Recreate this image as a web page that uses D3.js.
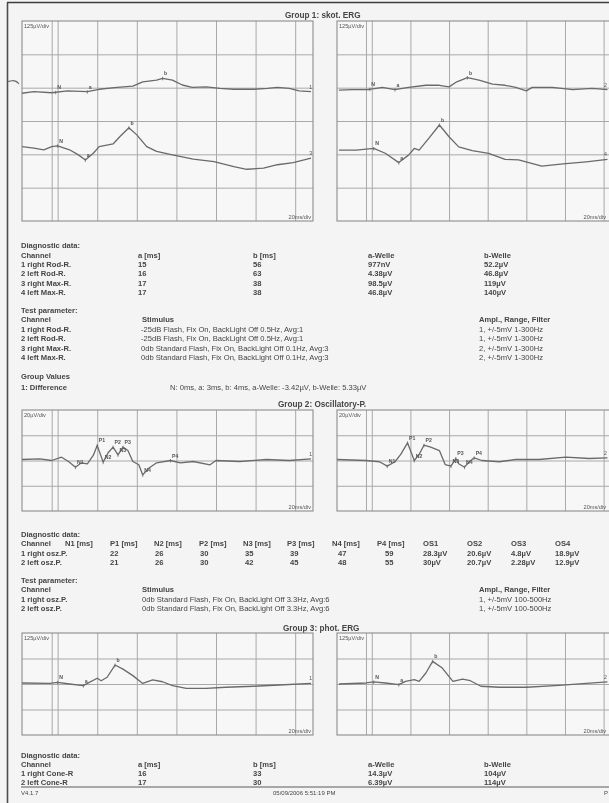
<!DOCTYPE html>
<html>
<head>
<meta charset="utf-8">
<script src="https://cdn.jsdelivr.net/npm/d3@7"></script>
<style>
body { margin: 0; background: #f4f4f4; }
svg { display: block; font-family: "Liberation Sans", Arial, sans-serif; }
</style>
</head>
<body>
<svg id="chart" width="609" height="803"></svg>
<script>
// Kurven: Zeit [ms] und Spannung [µV] relativ zur Nulllinie der Spur

// Group 1: skot. ERG
const rodRightT = [-18, -12, -3, 5, 15, 21, 30, 38, 43, 50, 53, 58, 63, 68, 75, 82, 89, 99, 106, 111, 117, 122, 128];
const rodRightV = [-12, -6, -10, -3, -6, 3, 10, 15, 31, 37, 44, 37, 19, 10, 12, 6, 3, 3, 6, 10, 6, -3, -6];
const maxRightT = [-18, -12, -7, -3, 0, 6, 10.5, 14, 18, 21, 28, 31.5, 36, 40, 45, 50, 58, 68.5, 79, 89, 95.5, 104, 111, 119, 128];
const maxRightV = [6, 0, -6, 6, 9, -6, -25, -44, -19, 6, 16, 44, 77, 50, 6, -12, -25, -41, -50, -69, -79, -75, -62, -54, -37];
const rodLeftT = [-17, -10, -2, 5.5, 12, 19, 28, 35, 40, 44, 49.5, 55.5, 62.5, 69, 74.5, 80, 83, 93.5, 104, 114, 122];
const rodLeftV = [-6, -4, -4, 4, -4, 4, 12, 12, 6, 25, 41, 31, 16, 12, 4, -9, 4, 4, -4, 0, -4];
const maxLeftT = [-17, -8, 1, 7, 14, 19, 22, 24.5, 29.5, 35, 40, 45, 52, 60.5, 69, 76, 88, 99, 111, 122];
const maxLeftV = [0, 0, 6, -12, -47, -19, 6, 0, 44, 94, 50, 12, -2, -12, -35, -37, -60, -52, -44, -35];
const strayT = [-25, -23, -21, -19.5];
const strayV = [148, 152, 150, 139];

// Group 2: Oscillatory-P.
const oszRightT = [-18, -9, -3, 2, 5.5, 9, 12, 15, 18, 20, 23, 25.5, 28, 30.5, 33, 35.5, 38, 41, 43, 46, 50, 57, 62, 68.5, 77, 80, 92, 105.5, 117, 128];
const oszRightV = [0.8, 1.3, 0, 2.6, -0.8, -5.3, -1.8, -2.6, 4, 11.9, -1.3, 6.1, 10.6, 4.5, 10.6, 7.9, -0.8, -3.4, -11.4, -6.1, -1.8, 0, -1.8, -0.8, -3.4, 0, -0.8, 0.8, 0, 1.3];
const oszLeftT = [-18, -3, 4, 8, 12, 15, 18.5, 22, 24.5, 27, 30.5, 35, 38, 41, 43.5, 45, 48, 50.5, 53, 57, 66, 74.5, 86.5, 100.5, 112.5, 122];
const oszLeftV = [0.8, 0, -1, -4.5, -1, 4.8, 14, 0, 4.8, 12.1, 10.6, 7.9, -3.2, -4.5, 1.6, -2.6, -5.3, -1, 2.1, 0, -1, 0.8, 0.8, 2.6, 1.6, 2.1];

// Group 3: phot. ERG
const coneRightT = [-18, -4, 0, 6, 13, 16, 20, 22, 25, 29, 33, 38, 43, 48, 53, 58, 65, 75, 85, 99, 112, 128];
const coneRightV = [5, 3, 8, 0, -8, 8, 28, 16, 33, 93, 73, 41, 3, 20, 11, -8, -21, -21, -16, -11, -5, 3];
const coneLeftT = [-17, -3, 1, 7, 14, 17.5, 22, 24.5, 28, 31.5, 36.5, 42, 47, 51, 56.5, 66, 80, 97, 111, 122];
const coneLeftV = [0, 5, 10, 5, -3, 13, 21, 13, 54, 111, 78, 13, 24, 16, -11, -16, -16, -7, 3, 10];

// Marker (Label, Zeit in ms)
const rodRightMarks = [["N", -1], ["a", 15], ["b", 53]];
const maxRightMarks = [["N", 0], ["a", 14], ["b", 36]];
const rodLeftMarks = [["N", -1], ["a", 12], ["b", 49.5]];
const maxLeftMarks = [["N", 1], ["a", 14], ["b", 35]];
const oszRightMarks = [["N1", 9], ["P1", 20], ["N2", 23], ["P2", 28], ["N3", 30.5], ["P3", 33], ["N4", 43], ["P4", 57]];
const oszLeftMarks = [["N1", 8], ["P1", 18.5], ["N2", 22], ["P2", 27], ["N3", 41], ["P3", 43.5], ["N4", 48], ["P4", 53]];
const coneRightMarks = [["N", 0], ["a", 13], ["b", 29]];
const coneLeftMarks = [["N", 1], ["a", 14], ["b", 31.5]];

// Raster
const timeDomain = [-18, 129];
const gridTimes = [-3, 0, 20, 40, 60, 80, 100, 120];

// Tabellen
const g1Channels = ["1 right Rod-R.", "2 left Rod-R.", "3 right Max-R.", "4 left Max-R."];
const g1Headers = ["a [ms]", "b [ms]", "a-Welle", "b-Welle"];
const g1A = ["15", "16", "17", "17"];
const g1B = ["56", "63", "38", "38"];
const g1AWave = ["977nV", "4.38µV", "98.5µV", "46.8µV"];
const g1BWave = ["52.2µV", "46.8µV", "119µV", "140µV"];
const g1Stimulus = [
  "-25dB Flash, Fix On, BackLight Off 0.5Hz, Avg:1",
  "-25dB Flash, Fix On, BackLight Off 0.5Hz, Avg:1",
  "0db Standard Flash, Fix On, BackLight Off 0.1Hz, Avg:3",
  "0db Standard Flash, Fix On, BackLight Off 0.1Hz, Avg:3"
];
const g1Ampl = ["1, +/-5mV 1-300Hz", "1, +/-5mV 1-300Hz", "2, +/-5mV 1-300Hz", "2, +/-5mV 1-300Hz"];
const g1Difference = "N: 0ms, a: 3ms, b: 4ms, a-Welle: -3.42µV, b-Welle: 5.33µV";

const g2Channels = ["1 right osz.P.", "2 left osz.P."];
const g2Headers = ["N1 [ms]", "P1 [ms]", "N2 [ms]", "P2 [ms]", "N3 [ms]", "P3 [ms]", "N4 [ms]", "P4 [ms]", "OS1", "OS2", "OS3", "OS4"];
const g2Times = [["22", "26", "30", "35", "39", "47", "59"], ["21", "26", "30", "42", "45", "48", "55"]];
const g2OS = [["28.3µV", "20.6µV", "4.8µV", "18.9µV"], ["30µV", "20.7µV", "2.28µV", "12.9µV"]];
const g2Stimulus = ["0db Standard Flash, Fix On, BackLight Off 3.3Hz, Avg:6", "0db Standard Flash, Fix On, BackLight Off 3.3Hz, Avg:6"];
const g2Ampl = ["1, +/-5mV 100-500Hz", "1, +/-5mV 100-500Hz"];

const g3Channels = ["1 right Cone-R", "2 left Cone-R"];
const g3A = ["16", "17"];
const g3B = ["33", "30"];
const g3AWave = ["14.3µV", "6.39µV"];
const g3BWave = ["104µV", "114µV"];

const svg = d3.select("#chart");
const INK = "#454545";

// leichte Unschaerfe wie beim Scan
svg.append("defs").append("filter").attr("id", "scan")
  .append("feGaussianBlur").attr("stdDeviation", 0.35);
svg.append("rect").attr("width", 609).attr("height", 803).attr("fill", "#f4f4f4");
const root = svg.append("g").attr("filter", "url(#scan)");

// Blattrand
root.append("line").attr("x1", 7.5).attr("y1", 2.5).attr("x2", 7.5).attr("y2", 803)
  .attr("stroke", "#4d4d4d").attr("stroke-width", 1.6);
root.append("line").attr("x1", 7).attr("y1", 2.5).attr("x2", 609).attr("y2", 2.5)
  .attr("stroke", "#3d3d3d").attr("stroke-width", 1.6);

function txt(x, y, s, opt = {}) {
  return root.append("text").attr("x", x).attr("y", y).text(s)
    .attr("font-size", opt.size || 7.6)
    .attr("font-weight", opt.weight || "bold")
    .attr("text-anchor", opt.anchor || "start")
    .attr("fill", opt.fill || INK);
}

function column(x, y0, dy, arr, opt) {
  arr.forEach((s, i) => txt(x, y0 + i * dy, s, opt));
}

function interp(T, V, t) {
  const i = d3.bisectLeft(T, t);
  if (i <= 0) return V[0];
  if (i >= T.length) return V[V.length - 1];
  const k = (t - T[i - 1]) / (T[i] - T[i - 1]);
  return V[i - 1] + k * (V[i] - V[i - 1]);
}

function drawPanel(p) {
  const g = root.append("g");
  const x = d3.scaleLinear().domain(timeDomain).range([p.x0, p.x0 + p.w]);
  const half = p.divs * p.perDiv / 2;
  const y = d3.scaleLinear().domain([-half, half]).range([p.y1, p.y0]);
  const h = p.y1 - p.y0;

  g.append("rect").attr("x", p.x0).attr("y", p.y0).attr("width", p.w).attr("height", h).attr("fill", "#f7f7f7");

  // Gitter
  g.append("g").attr("transform", `translate(0,${p.y1})`)
    .call(d3.axisBottom(x).tickValues(gridTimes).tickSize(h).tickFormat(""))
    .call(a => a.selectAll(".tick line").attr("y2", -h));
  g.append("g").attr("transform", `translate(${p.x0},0)`)
    .call(d3.axisLeft(y).tickValues(d3.range(-half + p.perDiv, half, p.perDiv)).tickSize(-p.w).tickFormat(""));
  g.selectAll(".domain").remove();
  g.selectAll(".tick line").attr("stroke", "#a9a9a9").attr("stroke-width", 1);

  g.append("rect").attr("x", p.x0).attr("y", p.y0).attr("width", p.w).attr("height", h)
    .attr("fill", "none").attr("stroke", "#8c8c8c").attr("stroke-width", 1.1);

  g.append("text").attr("x", p.x0 + 2).attr("y", p.y0 + 6.5).text(p.label)
    .attr("font-size", 5.6).attr("fill", "#555");
  g.append("text").attr("x", Math.min(p.x0 + p.w - 2, 606)).attr("y", p.y1 - 2).text("20ms/div")
    .attr("font-size", 5.6).attr("text-anchor", "end").attr("fill", "#555");

  const line = d3.line().x(d => x(d[0])).y(d => y(d[1]));

  p.traces.forEach(tr => {
    const pts = tr.T.map((t, i) => [t, tr.V[i] + tr.offset]);
    g.append("path").datum(pts).attr("d", line)
      .attr("fill", "none").attr("stroke", "#6a6a6a").attr("stroke-width", 1.3)
      .attr("stroke-linejoin", "round");

    tr.marks.forEach(([lab, t]) => {
      const v = interp(tr.T, tr.V, t) + tr.offset;
      g.append("line").attr("x1", x(t)).attr("x2", x(t))
        .attr("y1", y(v) - 1.5).attr("y2", y(v) + 2)
        .attr("stroke", "#6a6a6a").attr("stroke-width", 0.8);
      g.append("text").attr("x", x(t) + 1.5).attr("y", y(v) - 3).text(lab)
        .attr("font-size", 5.2).attr("font-weight", "bold").attr("fill", "#555");
    });

    const tEnd = tr.T[tr.T.length - 1];
    const vEnd = tr.V[tr.V.length - 1] + tr.offset;
    g.append("text").attr("x", Math.min(x(tEnd) + 1, 607)).attr("y", y(vEnd) - 3).text(tr.num)
      .attr("font-size", 5.2).attr("text-anchor", "end").attr("fill", "#555");
  });
  return { x, y, g };
}

// ---------------- Group 1 ----------------
txt(285, 17.5, "Group 1: skot. ERG", { size: 8.2 });
const p1 = drawPanel({
  x0: 22, w: 291, y0: 21, y1: 221, divs: 6, perDiv: 125, label: "125µV/div",
  traces: [
    { T: rodRightT, V: rodRightV, offset: 116, marks: rodRightMarks, num: "1" },
    { T: maxRightT, V: maxRightV, offset: -102, marks: maxRightMarks, num: "3" }
  ]
});
p1.g.append("path").datum(strayT.map((t, i) => [t, strayV[i]]))
  .attr("d", d3.line().x(d => p1.x(d[0])).y(d => p1.y(d[1])).curve(d3.curveBasis))
  .attr("fill", "none").attr("stroke", "#6a6a6a").attr("stroke-width", 1.2);
drawPanel({
  x0: 337, w: 284, y0: 21, y1: 221, divs: 6, perDiv: 125, label: "125µV/div",
  traces: [
    { T: rodLeftT, V: rodLeftV, offset: 122, marks: rodLeftMarks, num: "2" },
    { T: maxLeftT, V: maxLeftV, offset: -109, marks: maxLeftMarks, num: "4" }
  ]
});

txt(21, 248, "Diagnostic data:");
txt(21, 257.5, "Channel");
column(21, 266.5, 9.6, g1Channels);
txt(138, 257.5, g1Headers[0]); column(138, 266.5, 9.6, g1A);
txt(253, 257.5, g1Headers[1]); column(253, 266.5, 9.6, g1B);
txt(368, 257.5, g1Headers[2]); column(368, 266.5, 9.6, g1AWave);
txt(484, 257.5, g1Headers[3]); column(484, 266.5, 9.6, g1BWave);

txt(21, 313, "Test parameter:");
txt(21, 322.3, "Channel");
column(21, 331.6, 9.5, g1Channels);
txt(142, 322.3, "Stimulus");
column(141, 331.6, 9.5, g1Stimulus, { weight: "normal" });
txt(479, 322.3, "Ampl., Range, Filter");
column(479, 331.6, 9.5, g1Ampl, { weight: "normal" });

txt(21, 379, "Group Values");
txt(21, 389.8, "1: Difference");
txt(170, 389.8, g1Difference, { weight: "normal" });

// ---------------- Group 2 ----------------
txt(278, 407, "Group 2: Oscillatory-P.", { size: 8.2 });
drawPanel({
  x0: 22, w: 291, y0: 410, y1: 511, divs: 4, perDiv: 20, label: "20µV/div",
  traces: [{ T: oszRightT, V: oszRightV, offset: 0, marks: oszRightMarks, num: "1" }]
});
drawPanel({
  x0: 337, w: 284, y0: 410, y1: 511, divs: 4, perDiv: 20, label: "20µV/div",
  traces: [{ T: oszLeftT, V: oszLeftV, offset: 0, marks: oszLeftMarks, num: "2" }]
});

const g2HeadX = [65, 110, 154, 199, 243, 287, 332, 377, 423, 467, 511, 555];
const g2ValX = [110, 155, 200, 245, 290, 338, 385];
txt(21, 537, "Diagnostic data:");
txt(21, 546.3, "Channel");
g2Headers.forEach((h, i) => txt(g2HeadX[i], 546.3, h));
column(21, 555.6, 9.5, g2Channels);
g2Times.forEach((row, r) => row.forEach((v, i) => txt(g2ValX[i], 555.6 + r * 9.5, v)));
g2OS.forEach((row, r) => row.forEach((v, i) => txt(g2HeadX[8 + i], 555.6 + r * 9.5, v)));

txt(21, 583, "Test parameter:");
txt(21, 592.3, "Channel");
column(21, 601.6, 9.5, g2Channels);
txt(142, 592.3, "Stimulus");
column(142, 601.6, 9.5, g2Stimulus, { weight: "normal" });
txt(479, 592.3, "Ampl., Range, Filter");
column(479, 601.6, 9.5, g2Ampl, { weight: "normal" });

// ---------------- Group 3 ----------------
txt(283, 631, "Group 3: phot. ERG", { size: 8.2 });
drawPanel({
  x0: 22, w: 291, y0: 633, y1: 735, divs: 4, perDiv: 125, label: "125µV/div",
  traces: [{ T: coneRightT, V: coneRightV, offset: 0, marks: coneRightMarks, num: "1" }]
});
drawPanel({
  x0: 337, w: 284, y0: 633, y1: 735, divs: 4, perDiv: 125, label: "125µV/div",
  traces: [{ T: coneLeftT, V: coneLeftV, offset: 0, marks: coneLeftMarks, num: "2" }]
});

txt(21, 758, "Diagnostic data:");
txt(21, 766.5, "Channel");
column(21, 775.8, 9.3, g3Channels);
txt(138, 766.5, g1Headers[0]); column(138, 775.8, 9.3, g3A);
txt(253, 766.5, g1Headers[1]); column(253, 775.8, 9.3, g3B);
txt(368, 766.5, g1Headers[2]); column(368, 775.8, 9.3, g3AWave);
txt(484, 766.5, g1Headers[3]); column(484, 775.8, 9.3, g3BWave);

// Fusszeile
root.append("line").attr("x1", 21).attr("x2", 609).attr("y1", 787).attr("y2", 787)
  .attr("stroke", "#5a5a5a").attr("stroke-width", 1);
txt(21, 794.5, "V4.1.7", { size: 6, weight: "normal" });
txt(273, 794.5, "05/09/2006 5:51:19 PM", { size: 6, weight: "normal" });
txt(604, 794.5, "P", { size: 6, weight: "normal" });
</script>
</body>
</html>
